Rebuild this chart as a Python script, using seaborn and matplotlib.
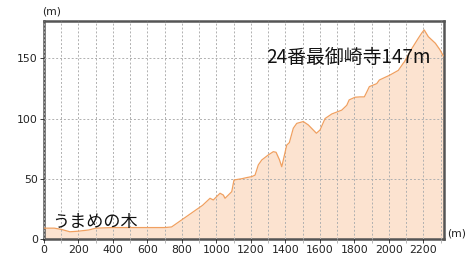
import matplotlib
matplotlib.use("Agg")
import matplotlib.pyplot as plt
import seaborn as sns
import numpy as np
import pandas as pd

distance = [0, 60, 100, 150, 200, 260, 300, 400, 500, 600, 700, 740,
            800, 860, 920, 963, 982, 1021, 1040, 1050, 1089, 1102, 1127, 1146,
            1176, 1205, 1224, 1243, 1263, 1301, 1330, 1346, 1365, 1379, 1408,
            1423, 1446, 1466, 1504, 1533, 1580, 1601, 1630, 1669, 1727, 1756,
            1770, 1804, 1833, 1858, 1872, 1887, 1930, 1945, 2005, 2055, 2084,
            2090, 2133, 2171, 2191, 2205, 2229, 2270, 2297, 2316]
elevation = [9, 9, 8, 6, 6.5, 7.5, 9, 9.5, 9.5, 9.5, 9.5, 10,
             16, 22, 28, 33.8, 32.4, 38, 36.5, 33.8, 39.3, 49, 49.6, 50,
             51, 51.8, 53, 61.5, 65.6, 69.8, 72.5, 72, 66, 60, 78,
             80, 92, 96, 97.5, 94.7, 87.8, 90.5, 100, 103.8, 107, 111,
             115.5, 117.7, 118, 118, 122, 126.5, 129, 132, 136, 140, 146,
             147, 158, 166.7, 171, 173.6, 168, 162.5, 157, 152]

start_label = "うまめの木"
end_label = "24番最御崎寺147m"
unit = "(m)"

sns.set_theme(style="white")
plt.rcParams['font.family'] = ['Noto Sans CJK JP', 'DejaVu Sans']

df = pd.DataFrame({"distance": distance, "elevation": elevation})

fig = plt.figure(figsize=(4.73, 2.66), dpi=100)
ax = fig.add_axes([44/473, 27/266, 400/473, 218/266])

line_c = "#F0A060"
fill_c = "#FCE3D0"
ax.fill_between(df["distance"], df["elevation"], 0, color=fill_c, zorder=1, lw=0)
sns.lineplot(data=df, x="distance", y="elevation", ax=ax, color=line_c, lw=0.9, zorder=3)

ax.set_xlim(0, 2320)
ax.set_ylim(0, 181)
ax.set_xticks(np.arange(0, 2201, 200))
ax.set_xticks(np.arange(100, 2301, 200), minor=True)
ax.set_yticks([0, 50, 100, 150])
ax.grid(True, which="both", axis="x", color="#B0B0B0", ls=(0, (2, 2)), lw=0.7, zorder=2)
ax.grid(True, which="major", axis="y", color="#B0B0B0", ls=(0, (2, 2)), lw=0.7, zorder=2)
ax.set_axisbelow(False)
for ln in ax.get_xgridlines() + ax.get_ygridlines():
    ln.set_zorder(2)

ax.set_xlabel("")
ax.set_ylabel("")
ax.tick_params(axis="both", which="both", labelsize=7.8, colors="#222222", length=3,
               direction="out", width=0.6, pad=1.5, bottom=True, left=True)
ax.tick_params(axis="x", which="minor", length=3, color="#AAAAAA")
for lbl in ax.get_xticklabels() + ax.get_yticklabels():
    lbl.set_fontfamily(['DejaVu Sans'])

for sp in ax.spines.values():
    sp.set_color("#555555")
    sp.set_linewidth(1.8)
    sp.set_visible(True)

fig.text(42/473, 1 - 12/266, unit, fontsize=7.8, color="#222222", ha="left", va="center",
         family=['DejaVu Sans'])
fig.text(447/473, 1 - 233/266, unit, fontsize=7.8, color="#222222", ha="left", va="center",
         family=['DejaVu Sans'])

ax.text(52/473, 1 - 222/266, start_label, transform=fig.transFigure, fontsize=12.3,
        color="#111111", ha="left", va="center", zorder=5)
ax.text(266/473, 1 - 57/266, end_label, transform=fig.transFigure, fontsize=13.6,
        color="#111111", ha="left", va="center", zorder=5)

fig.savefig("out.png", dpi=100)
